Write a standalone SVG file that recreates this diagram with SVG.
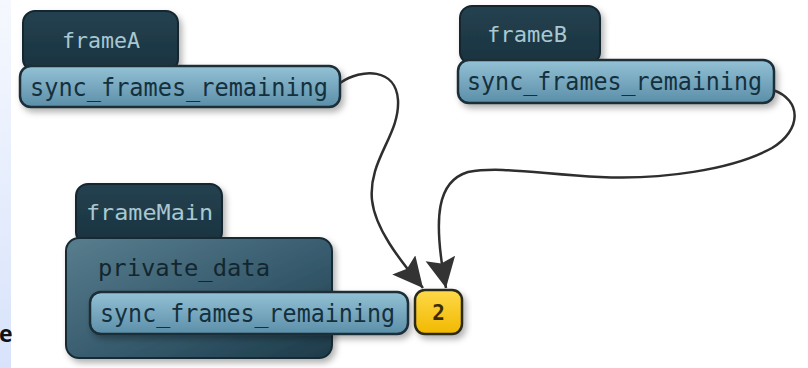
<svg xmlns="http://www.w3.org/2000/svg" width="808" height="368" viewBox="0 0 808 368">
<defs>
  <linearGradient id="strip" x1="0" y1="0" x2="0" y2="1">
    <stop offset="0" stop-color="#f5f8fe"/>
    <stop offset="1" stop-color="#d8e3fb"/>
  </linearGradient>
  <linearGradient id="tab" x1="0" y1="0" x2="0" y2="1">
    <stop offset="0" stop-color="#24414f"/>
    <stop offset="1" stop-color="#1a3340"/>
  </linearGradient>
  <linearGradient id="field" x1="0" y1="0" x2="0" y2="1">
    <stop offset="0" stop-color="#94c2d6"/>
    <stop offset="1" stop-color="#5b8ea8"/>
  </linearGradient>
  <linearGradient id="box" x1="0" y1="0" x2="1" y2="1">
    <stop offset="0" stop-color="#587e8e"/>
    <stop offset="0.6" stop-color="#34586a"/>
    <stop offset="1" stop-color="#1d3a48"/>
  </linearGradient>
  <linearGradient id="badge" x1="0" y1="0" x2="0" y2="1">
    <stop offset="0" stop-color="#ffd94a"/>
    <stop offset="1" stop-color="#f1b800"/>
  </linearGradient>
  <filter id="sh" x="-10%" y="-20%" width="130%" height="150%">
    <feDropShadow dx="3" dy="4" stdDeviation="3" flood-color="#000" flood-opacity="0.3"/>
  </filter>
  <marker id="arr" markerUnits="userSpaceOnUse" markerWidth="34" markerHeight="32" refX="30" refY="15" orient="auto">
    <path d="M0,0 L30,15 L0,30 L5,15 Z" fill="#333"/>
  </marker>
  <style>
    .tab{fill:url(#tab);stroke:#13252e;stroke-width:2}
    .fld{fill:url(#field);stroke:#1a2d37;stroke-width:2.5}
    .mono{font-family:"DejaVu Sans Mono","Liberation Mono",monospace}
    .tabt{fill:#a8c8d2;font-size:21px}
    .fldt{fill:#14303d;font-size:24px}
    .edge{fill:none;stroke:#2e2e2e;stroke-width:2.5}
  </style>
</defs>
<rect x="0" y="0" width="808" height="368" fill="#ffffff"/>
<rect x="0" y="0" width="11" height="368" fill="url(#strip)"/>
<text x="-1" y="342" font-family="'Open Sans','Liberation Sans',sans-serif" font-weight="bold" font-size="23" fill="#111">e</text>

<g id="frameA">
  <rect class="tab" x="23" y="11" width="155" height="60" rx="12" filter="url(#sh)"/>
  <text class="mono tabt" x="62" y="48" textLength="78" lengthAdjust="spacingAndGlyphs">frameA</text>
  <rect class="fld" x="20" y="66" width="320" height="41" rx="11" filter="url(#sh)"/>
  <text class="mono fldt" x="30" y="96" textLength="298" lengthAdjust="spacingAndGlyphs">sync_frames_remaining</text>
</g>

<g id="frameB">
  <rect class="tab" x="460" y="6" width="140" height="58" rx="12" filter="url(#sh)"/>
  <text class="mono tabt" x="487" y="42" textLength="80" lengthAdjust="spacingAndGlyphs">frameB</text>
  <rect class="fld" x="458" y="60" width="316" height="43" rx="11" filter="url(#sh)"/>
  <text class="mono fldt" x="467" y="90" textLength="295" lengthAdjust="spacingAndGlyphs">sync_frames_remaining</text>
</g>

<g id="frameMain">
  <rect class="tab" x="76" y="184" width="146" height="60" rx="12" filter="url(#sh)"/>
  <text class="mono tabt" x="86" y="220" textLength="127" lengthAdjust="spacingAndGlyphs">frameMain</text>
  <rect x="66" y="238" width="266" height="120" rx="13" fill="url(#box)" stroke="#172c36" stroke-width="2" filter="url(#sh)"/>
  <text class="mono" x="98" y="276" font-size="23" fill="#12262f" textLength="172" lengthAdjust="spacingAndGlyphs">private_data</text>
  <rect class="fld" x="90" y="292" width="318" height="42" rx="11" filter="url(#sh)"/>
  <text class="mono fldt" x="100" y="322" textLength="295" lengthAdjust="spacingAndGlyphs">sync_frames_remaining</text>
</g>

<g id="badge2">
  <rect x="415" y="290" width="47" height="44" rx="10" fill="url(#badge)" stroke="#2a2a1a" stroke-width="2.5" filter="url(#sh)"/>
  <text x="438.5" y="320" text-anchor="middle" font-family="'DejaVu Sans Mono',monospace" font-weight="bold" font-size="21" fill="#3a2d00">2</text>
</g>

<g id="connectors">
  <path class="edge" marker-end="url(#arr)" d="M340,83 C362,68 396,68 398,100 C400,135 368,160 372,200 C375,228 398,258 423,288"/>
  <path class="edge" marker-end="url(#arr)" d="M773,90 C802,100 802,130 772,148 C732,170 660,180 600,177 C540,174 500,166 468,172 C438,181 432,215 446,288"/>
</g>
</svg>
